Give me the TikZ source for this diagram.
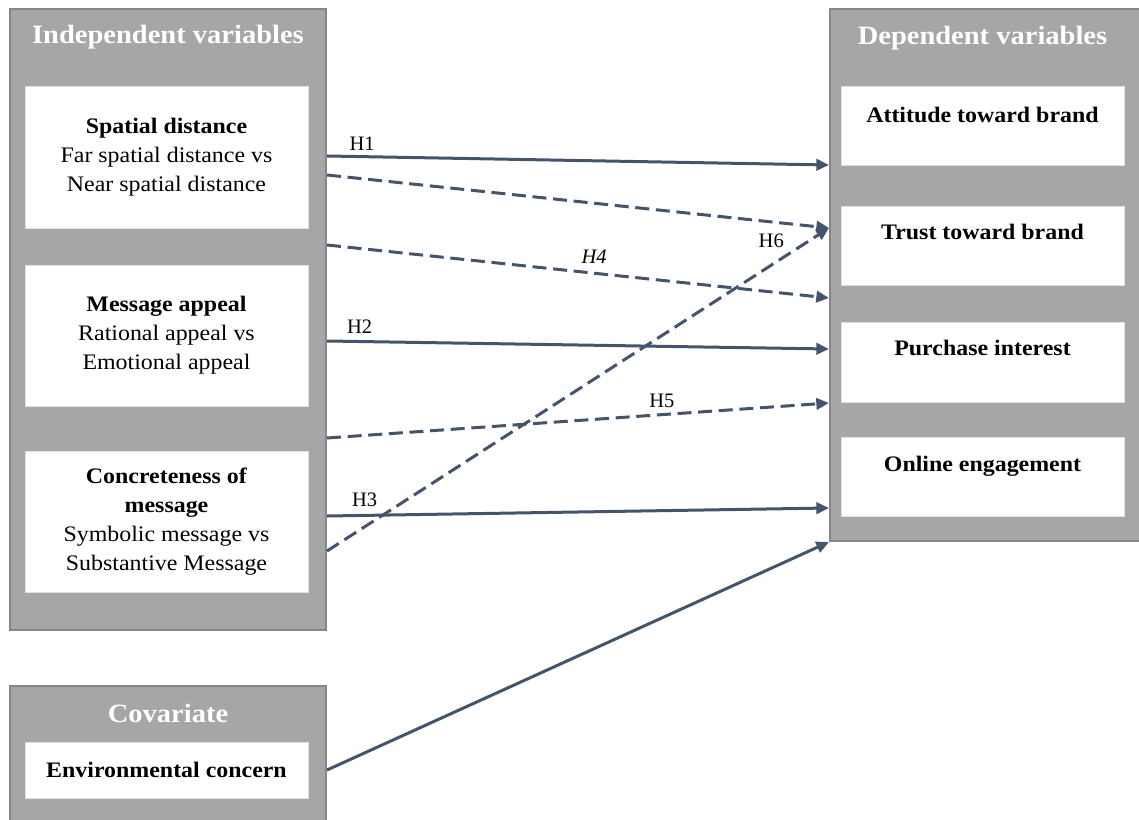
\documentclass[tikz,border=0pt]{standalone}
\usepackage{fontspec}
\setmainfont{Liberation Serif}[FakeStretch=1.08]
\newfontfamily\hypfont{Liberation Serif}
\usepackage{tikz}
\usetikzlibrary{arrows.meta, positioning, calc}
\usepackage{xcolor}
\definecolor{panelGray}{RGB}{166, 166, 166}
\definecolor{panelEdge}{RGB}{135, 135, 135}
\definecolor{pathSlate}{RGB}{68, 84, 106}
\definecolor{boxEdge}{RGB}{225, 225, 225}

\begin{document}
\begin{tikzpicture}[
    x=0.75pt, y=-0.75pt,
    every node/.style={font=\fontsize{16.6}{21.75}\selectfont},
    panel/.style={anchor=north west, draw=panelEdge, fill=panelGray, line width=1.5pt, inner sep=0pt},
    varbox/.style={draw=boxEdge, fill=white, line width=0.5pt, minimum width=212.25pt, align=center, inner sep=0pt},
    panelhead/.style={anchor=base, text=white, inner sep=0pt, font=\fontsize{19.8}{22}\selectfont\bfseries},
    boxtext/.style={anchor=north, inner sep=0pt, font=\fontsize{16.6}{21.75}\selectfont\bfseries},
    direct/.style={-{Triangle[length=9.5pt, width=8.5pt]}, draw=pathSlate, line width=2.25pt},
    spill/.style={direct, dash pattern=on 10.5pt off 5pt},
    hyp/.style={font=\hypfont\fontsize{15.4}{18}\selectfont, inner sep=0pt},
]
\useasboundingbox (0,0) rectangle (1139,820);
\clip (0,0) rectangle (1139,820);
% panels
\node[panel, minimum width=237pt, minimum height=465.75pt] (IV) at (9,8) {};
\node[panel, minimum width=240.75pt, minimum height=399pt] (DV) at (829,8) {};
\node[panel, minimum width=237pt, minimum height=116.25pt] (COV) at (9,685) {};
\node[panelhead] (IVhead) at ($(IV.north)+(0,36)$) {Independent variables};
\node[panelhead] (DVhead) at (982.5,45) {Dependent variables};
\node[panelhead] (COVhead) at ($(COV.north)+(0,37)$) {Covariate};
% independent variables
\node[varbox, minimum height=106.5pt] (spatial) at (166.5,157) {\textbf{Spatial distance}\\Far spatial distance vs\\Near spatial distance};
\node[varbox, minimum height=105.75pt] (appeal) at (166.5,335.5) {\textbf{Message appeal}\\Rational appeal vs\\Emotional appeal};
\node[varbox, minimum height=105.75pt] (concrete) at (166.5,521.5) {\textbf{Concreteness of}\\\textbf{message}\\Symbolic message vs\\Substantive Message};
% dependent variables
\node[varbox, minimum height=59.25pt] (attitude) at (982.5,125.5) {};
\node[varbox, minimum height=59.25pt] (trust) at (982.5,245.5) {};
\node[varbox, minimum height=60pt] (purchase) at (982.5,362) {};
\node[varbox, minimum height=59.25pt] (engage) at (982.5,476.5) {};
\node[boxtext, below=16pt of attitude.north] (attitudeT) {Attitude toward brand};
\node[boxtext, below=13.5pt of trust.north] (trustT) {Trust toward brand};
\node[boxtext, below=14pt of purchase.north] (purchaseT) {Purchase interest};
\node[boxtext, below=14.5pt of engage.north] (engageT) {Online engagement};
% covariate
\node[varbox, minimum height=42pt] (env) at (166.5,770) {\textbf{Environmental concern}};
% attachment points on the panel edges
\coordinate (ivA) at ($(IV.north east)+(0,148)$);
\coordinate (ivB) at ($(IV.north east)+(0,167)$);
\coordinate (ivC) at ($(IV.north east)+(0,237)$);
\coordinate (ivD) at ($(IV.north east)+(0,333)$);
\coordinate (ivE) at ($(IV.north east)+(0,430)$);
\coordinate (ivF) at ($(IV.north east)+(0,508)$);
\coordinate (ivG) at ($(IV.north east)+(0,543)$);
\coordinate (covA) at ($(COV.north east)+(0,85)$);
\coordinate (dvA) at ($(DV.north west)+(0,157)$);
\coordinate (dvB) at ($(DV.north west)+(0,220)$);
\coordinate (dvC) at ($(DV.north west)+(0,290)$);
\coordinate (dvD) at ($(DV.north west)+(0,341)$);
\coordinate (dvE) at ($(DV.north west)+(0,395)$);
\coordinate (dvF) at ($(DV.north west)+(0,500)$);
% hypotheses
\draw[direct] (ivA) -- (dvA) node[hyp, pos=0.07, yshift=10pt] {H1};
\draw[spill] (ivB) -- (dvB);
\draw[spill] (ivC) -- (dvC) node[hyp, pos=0.532, yshift=12pt] {\itshape H4};
\draw[direct] (ivD) -- (dvD) node[hyp, pos=0.065, yshift=10.9pt] {H2};
\draw[spill] (ivE) -- (dvE) node[hyp, pos=0.667, yshift=10.3pt] {H5};
\draw[direct] (ivF) -- (dvF) node[hyp, pos=0.075, yshift=11.5pt] {H3};
\draw[spill] (ivG) -- (dvB) node[hyp, pos=0.885, yshift=18pt] {H6};
\draw[direct] (covA) -- (DV.south west);
\end{tikzpicture}
\end{document}
